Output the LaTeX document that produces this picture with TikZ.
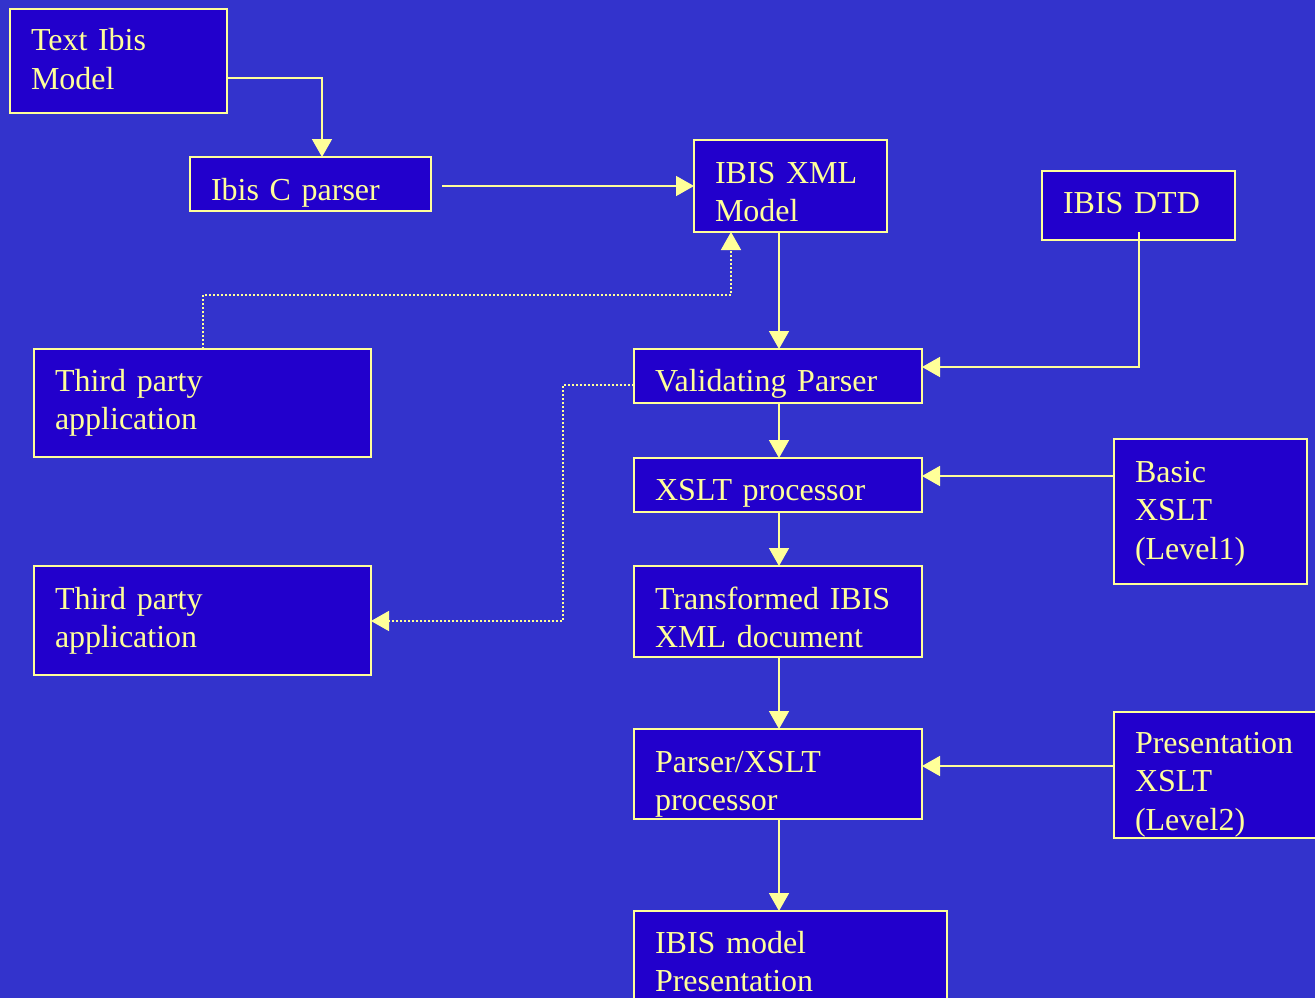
\documentclass[tikz,border=0pt]{standalone}
\usepackage{fontspec}
\setmainfont{Liberation Serif}
\usetikzlibrary{arrows.meta}
\definecolor{bgblue}{RGB}{51,51,204}
\definecolor{boxblue}{RGB}{34,0,204}
\definecolor{ylw}{RGB}{255,255,153}
\tikzset{
  x=1pt, y=-1pt,
  box/.style={draw=ylw, fill=boxblue, line width=1.5pt, anchor=north west,
    inner xsep=21pt, inner ysep=0pt, outer sep=0pt, align=left, text=ylw,
    font=\fontsize{32}{38.5}\selectfont},
  conn/.style={draw=ylw, line width=1.6pt, -{Triangle[width=20pt,length=18pt]}},
  dotconn/.style={conn, line width=1.6pt, dash pattern=on 1.6pt off 2.4pt}
}
\begin{document}
\begin{tikzpicture}
\path[use as bounding box, fill=bgblue] (0,0) rectangle (1315,998);
\clip (0,0) rectangle (1315,998);
% boxes: text width = w - 42, text height = baseline - top, text depth = bottom - baseline
\node[box, text width=175pt, text height=42pt, text depth=62pt] (ti) at (10,9) {Text Ibis\\Model};
\node[box, text width=199pt, text height=43pt, text depth=11pt] (icp) at (190,157) {Ibis C parser};
\node[box, text width=151pt, text height=43pt, text depth=49pt] (ixm) at (694,140) {IBIS XML\\Model};
\node[box, text width=151pt, text height=42pt, text depth=27pt] (dtd) at (1042,171) {IBIS DTD};
\node[box, text width=295pt, text height=42pt, text depth=66pt] (tpa) at (34,349) {Third party\\application};
\node[box, text width=246pt, text height=42pt, text depth=12pt] (vp) at (634,349) {Validating Parser};
\node[box, text width=246pt, text height=42pt, text depth=12pt] (xs) at (634,458) {XSLT processor};
\node[box, text width=151pt, text height=43pt, text depth=102pt] (bx) at (1114,439) {Basic\\XSLT\\(Level1)};
\node[box, text width=295pt, text height=43pt, text depth=66pt] (tpb) at (34,566) {Third party\\application};
\node[box, text width=246pt, text height=43pt, text depth=48pt] (tr) at (634,566) {Transformed IBIS\\XML document};
\node[box, text width=246pt, text height=43pt, text depth=47pt] (px) at (634,729) {Parser/XSLT\\processor};
\node[box, text width=170pt, text height=41pt, text depth=85pt] (pxs) at (1114,712) {Presentation\\XSLT\\(Level2)};
\node[box, text width=271pt, text height=42pt, text depth=60pt] (imp) at (634,911) {IBIS model\\Presentation};
% connectors
\draw[conn] (ti.east |- 0,78) -| (322,0 |- icp.north);
\draw[conn, shorten <=11pt] (icp.east |- 0,186) -- (ixm.west |- 0,186);
\draw[dotconn] (203,0 |- tpa.north) -- (203,295) -| (731,0 |- ixm.south);
\draw[conn] (779,0 |- ixm.south) -- (779,0 |- vp.north);
\draw[conn] (1139,232) -- (1139,367) -- (vp.east |- 0,367);
\draw[conn] (779,0 |- vp.south) -- (779,0 |- xs.north);
\draw[dotconn] (vp.west |- 0,385) -| (563,621) -- (tpb.east |- 0,621);
\draw[conn] (779,0 |- xs.south) -- (779,0 |- tr.north);
\draw[conn] (bx.west |- 0,476) -- (xs.east |- 0,476);
\draw[conn] (779,0 |- tr.south) -- (779,0 |- px.north);
\draw[conn] (pxs.west |- 0,766) -- (px.east |- 0,766);
\draw[conn] (779,0 |- px.south) -- (779,0 |- imp.north);
\end{tikzpicture}
\end{document}
